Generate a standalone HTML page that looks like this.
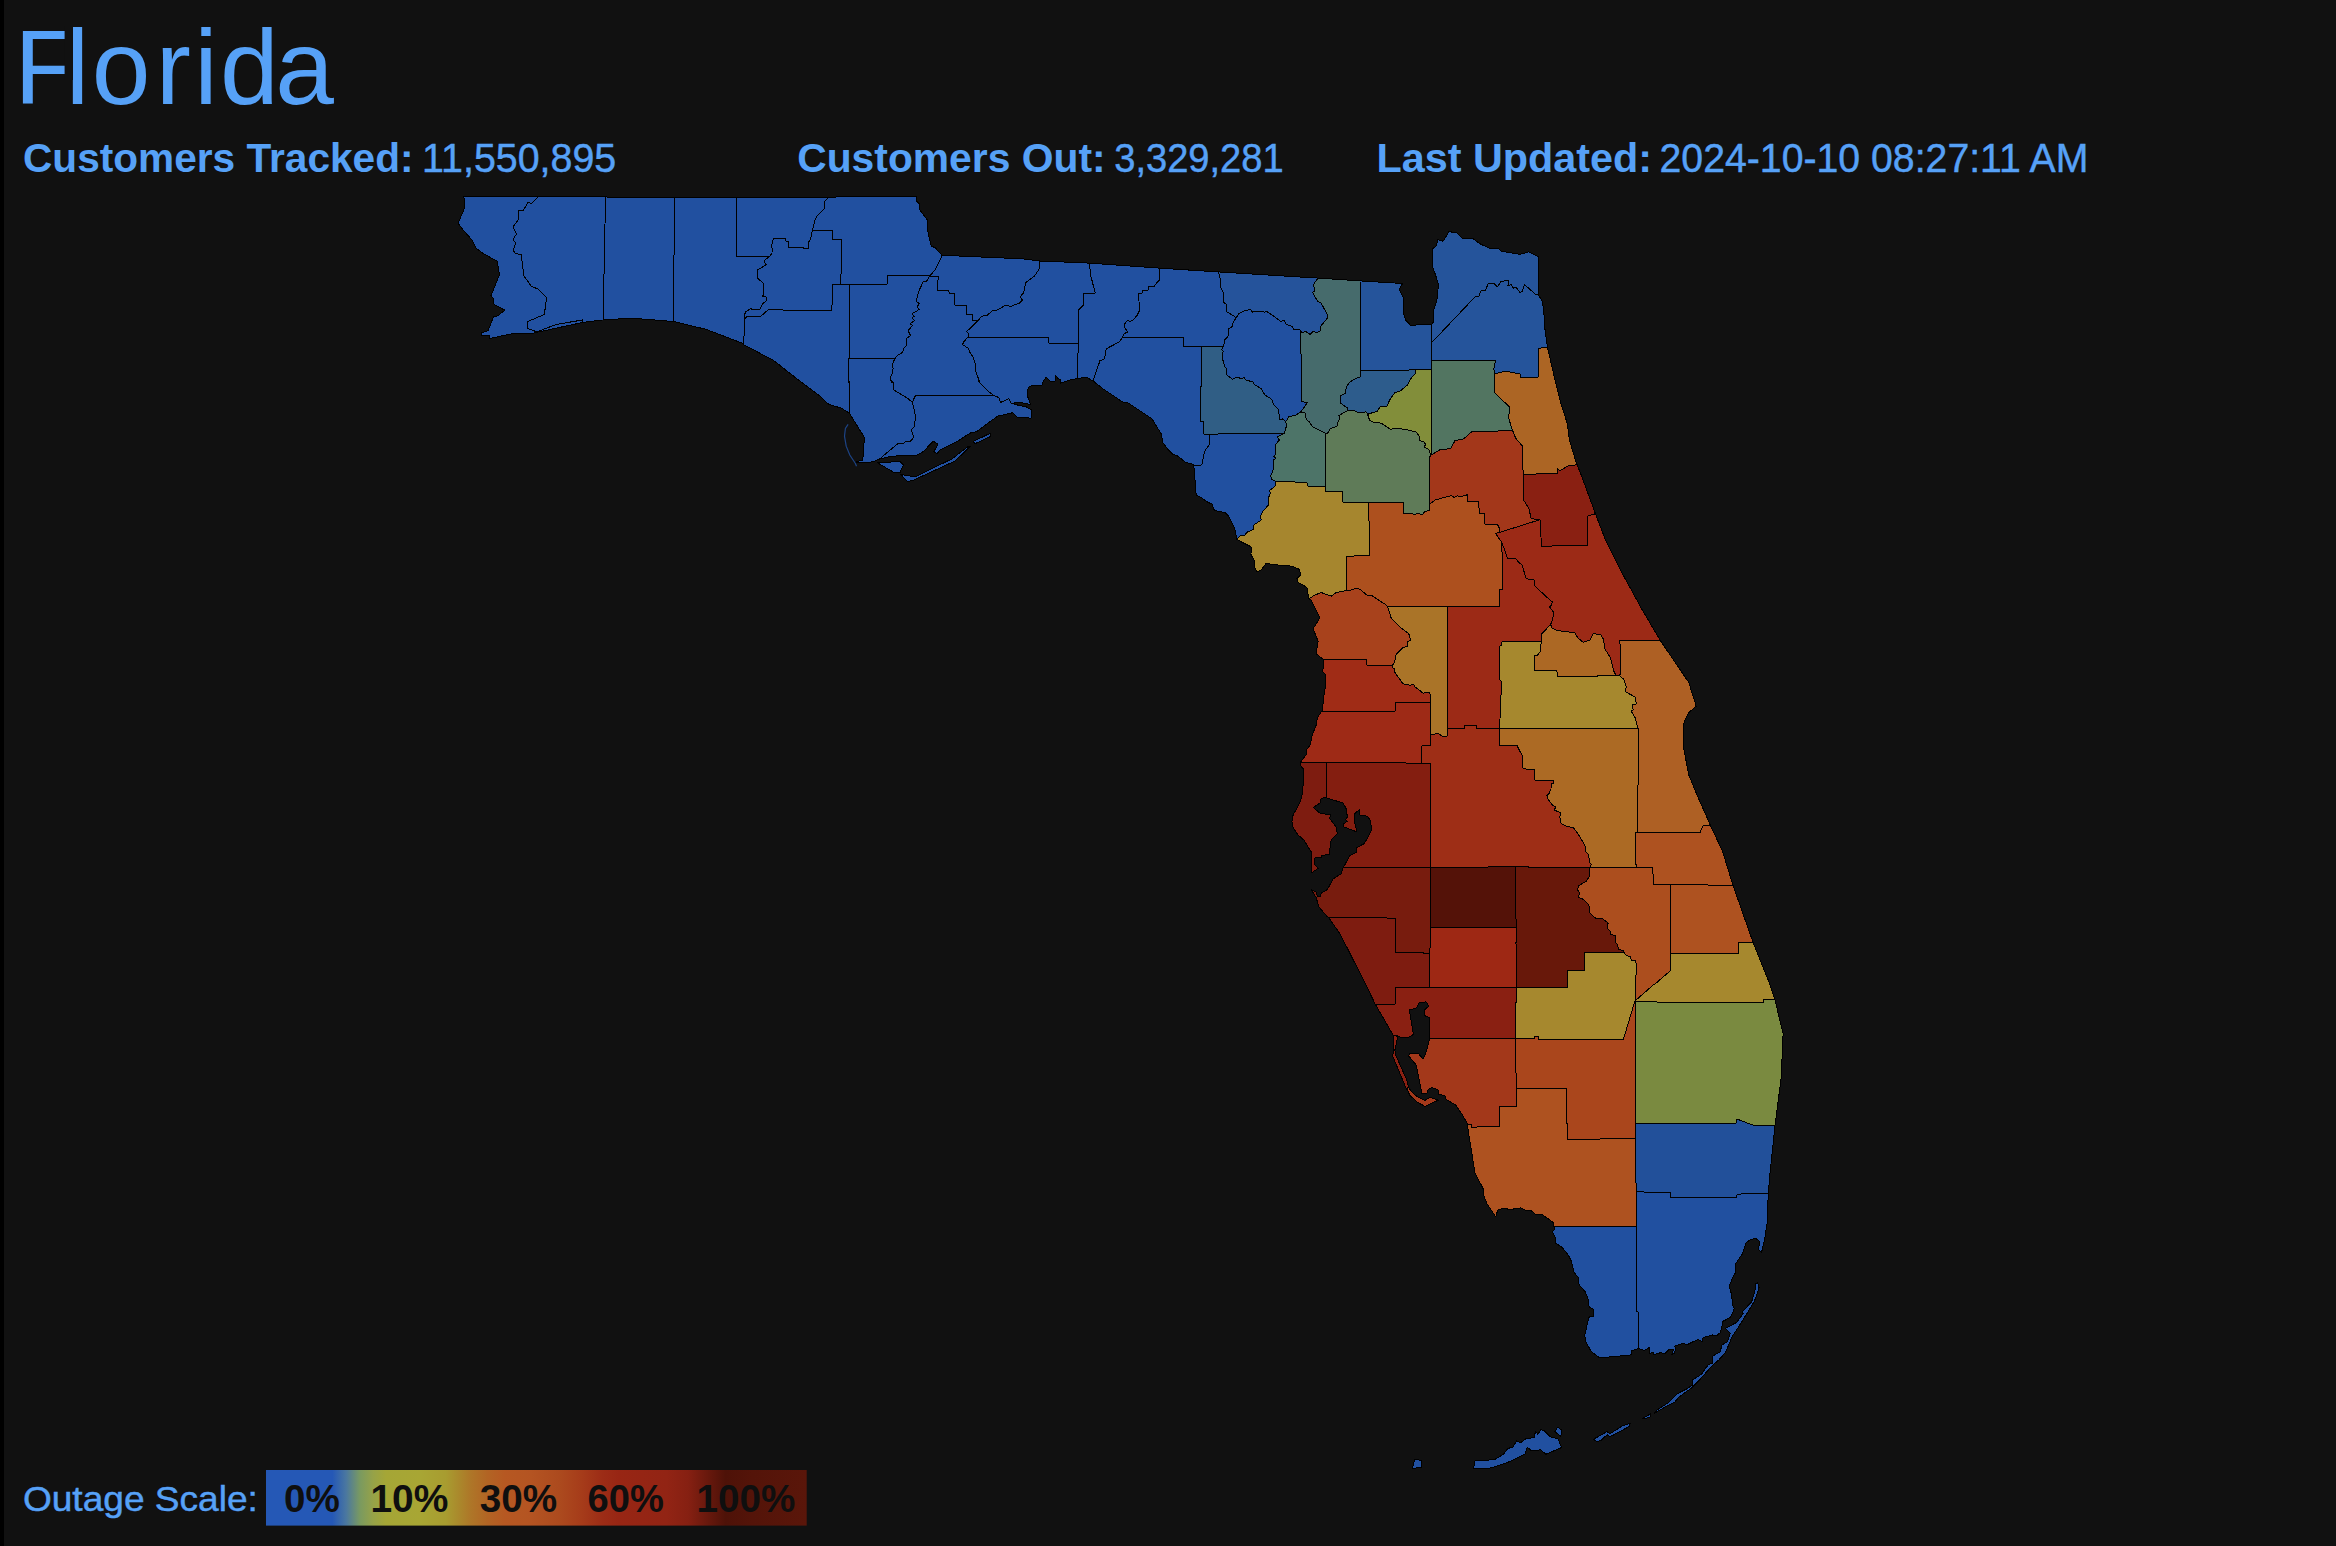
<!DOCTYPE html>
<html lang="en"><head><meta charset="utf-8"><title>Florida Power Outages</title>
<style>
html,body{margin:0;padding:0;background:#111111;}
body{width:2336px;height:1546px;overflow:hidden;position:relative;font-family:"Liberation Sans",sans-serif;}
#edge{position:absolute;left:0;top:0;width:4px;height:1546px;background:#000;}
svg{position:absolute;left:0;top:0;display:block;}
svg text{font-family:"Liberation Sans",sans-serif;white-space:pre;}
#map path{stroke:#000;stroke-width:1;stroke-linejoin:round;shape-rendering:crispEdges;}
</style></head><body>
<div id="edge"></div>
<svg width="2336" height="1546" viewBox="0 0 2336 1546">
<defs><linearGradient id="lg" x1="0" y1="0" x2="1" y2="0">
<stop offset="0%" stop-color="#2558B6"/>
<stop offset="12.3%" stop-color="#2558B6"/>
<stop offset="14.8%" stop-color="#4A77A0"/>
<stop offset="17.4%" stop-color="#7A9A60"/>
<stop offset="19.8%" stop-color="#96A248"/>
<stop offset="22.2%" stop-color="#A5A636"/>
<stop offset="28.5%" stop-color="#A8A634"/>
<stop offset="33.3%" stop-color="#A89C30"/>
<stop offset="35.5%" stop-color="#AA8A2C"/>
<stop offset="37.9%" stop-color="#AE7628"/>
<stop offset="41%" stop-color="#B26424"/>
<stop offset="44.2%" stop-color="#B65822"/>
<stop offset="49%" stop-color="#B45422"/>
<stop offset="54.3%" stop-color="#AC4A1E"/>
<stop offset="58.3%" stop-color="#A63C1A"/>
<stop offset="62.3%" stop-color="#9C2C16"/>
<stop offset="65.2%" stop-color="#982614"/>
<stop offset="74.1%" stop-color="#922414"/>
<stop offset="78.1%" stop-color="#862012"/>
<stop offset="81%" stop-color="#6E1A0E"/>
<stop offset="85%" stop-color="#4E1208"/>
<stop offset="90%" stop-color="#541409"/>
<stop offset="100%" stop-color="#5A160A"/>
</linearGradient></defs>
<g id="map">
<path d="M1775.0,1000.0 1774.9,999.6 1763.5,999.6 1763.1,1002.5 1662.5,1002.2 1635.0,1001.2 1635.0,1001.5 1635.0,1123.1 1736.2,1123.1 1736.9,1119.0 1752.5,1125.0 1775.0,1126.0 1775.0,1125.9 1775.0,1125.6 1781.2,1077.5 1783.1,1033.8 1775.0,1000.0Z" fill="#7A8A40"/>
<path d="M1447.8,728.5 1447.8,736.0 1442.5,736.2 1438.1,733.5 1436.2,733.8 1430.6,735.0 1430.4,745.6 1422.5,745.6 1421.9,746.2 1421.5,763.1 1430.0,763.4 1430.6,769.4 1430.6,793.0 1430.6,867.5 1487.5,867.2 1488.8,866.2 1515.6,866.2 1527.5,866.2 1528.8,867.2 1542.0,867.2 1590.0,867.5 1591.2,864.4 1589.4,862.5 1588.8,855.0 1586.0,851.9 1585.0,846.2 1582.5,841.2 1577.5,833.1 1573.8,828.1 1565.0,825.6 1561.2,823.8 1559.8,816.9 1560.6,812.8 1554.4,810.0 1555.6,806.9 1552.5,805.0 1548.1,799.4 1546.9,795.6 1549.4,793.0 1551.0,788.8 1551.2,783.8 1553.5,783.5 1553.8,780.6 1535.0,780.2 1534.8,769.4 1527.5,769.4 1522.8,768.1 1522.5,756.2 1516.9,745.4 1499.8,745.4 1499.8,728.5 1476.9,728.5 1476.5,725.4 1464.8,725.4 1464.4,728.5Z" fill="#9E2E16"/>
<path d="M1467.6,1124.4 1468.1,1130.0 1475.0,1173.0 1483.3,1189.0 1484.0,1196.3 1486.9,1203.6 1495.7,1216.7 1497.8,1210.1 1502.2,1208.4 1510.9,1209.4 1521.1,1207.9 1526.2,1210.8 1531.3,1210.8 1535.7,1214.5 1542.2,1214.5 1553.2,1222.5 1554.0,1226.4 1554.1,1226.6 1636.4,1226.6 1636.4,1191.9 1635.6,1173.0 1635.2,1138.5 1622.0,1138.5 1600.0,1139.0 1567.2,1139.4 1566.6,1088.5 1516.3,1088.5 1516.9,1106.5 1499.8,1106.9 1499.4,1126.2 1471.9,1127.2 1471.5,1124.4Z" fill="#AE5220"/>
<path d="M1638.7,1348.5 1639.0,1348.4 1644.1,1350.6 1649.2,1347.7 1649.9,1353.5 1652.9,1352.0 1653.6,1354.9 1660.1,1352.8 1665.2,1353.5 1669.6,1349.1 1674.0,1349.1 1671.8,1354.2 1674.7,1353.5 1675.4,1348.4 1674.7,1346.2 1682.7,1343.3 1687.1,1344.8 1692.9,1341.8 1698.0,1339.7 1702.3,1341.8 1703.1,1337.5 1712.5,1335.0 1716.2,1336.0 1720.5,1332.4 1722.0,1326.6 1722.7,1321.5 1730.7,1317.1 1734.4,1308.4 1732.2,1304.7 1731.9,1296.0 1729.3,1285.8 1732.9,1277.1 1735.5,1272.7 1735.5,1264.0 1742.4,1253.8 1746.0,1242.9 1749.6,1240.0 1755.5,1238.2 1759.8,1241.4 1758.4,1249.4 1761.6,1252.3 1764.9,1237.8 1767.1,1223.2 1768.3,1193.4 1737.3,1194.1 1736.5,1197.0 1670.8,1197.3 1670.3,1192.4 1636.4,1191.9 1636.4,1226.6 1636.8,1311.3 1638.3,1312.0Z" fill="#2150A0"/>
<path d="M1417.5,513.1 1414.4,515.0 1412.5,513.5 1403.5,513.1 1403.1,502.5 1368.8,502.1 1369.4,555.6 1346.9,556.2 1346.2,590.6 1351.2,590.0 1356.2,588.1 1360.0,589.4 1367.5,595.6 1371.9,595.6 1386.2,605.0 1387.5,606.2 1420.0,606.2 1447.8,606.2 1499.4,606.2 1499.4,589.8 1502.5,589.4 1501.9,543.1 1501.9,542.5 1495.6,533.5 1499.4,532.5 1499.4,528.1 1497.5,524.6 1485.0,524.4 1484.4,513.1 1479.4,513.1 1478.5,501.5 1467.5,501.2 1467.2,494.8 1459.4,496.9 1457.5,495.6 1454.4,497.5 1451.2,495.6 1435.0,500.0 1429.8,504.0 1429.8,504.0 1429.8,510.6 1425.0,511.2 1422.2,515.0Z" fill="#AD501E"/>
<path d="M1522.0,728.5 1499.8,728.5 1499.8,745.4 1516.9,745.4 1522.5,756.2 1522.8,768.1 1527.5,769.4 1534.8,769.4 1535.0,780.2 1553.8,780.6 1553.5,783.5 1551.2,783.8 1551.0,788.8 1549.4,793.0 1546.9,795.6 1548.1,799.4 1552.5,805.0 1555.6,806.9 1554.4,810.0 1560.6,812.8 1559.8,816.9 1561.2,823.8 1565.0,825.6 1573.8,828.1 1577.5,833.1 1582.5,841.2 1585.0,846.2 1586.0,851.9 1588.8,855.0 1589.4,862.5 1591.2,864.4 1590.0,867.5 1636.2,867.5 1635.6,857.5 1635.0,832.8 1637.5,831.9 1637.8,793.0 1638.8,752.5 1638.1,728.5Z" fill="#AC6A24"/>
<path d="M1660.5,640.8 1660.2,640.3 1619.8,640.6 1620.2,647.5 1620.0,676.0 1623.8,679.4 1626.2,686.2 1625.6,691.9 1635.0,696.9 1636.5,703.8 1632.5,704.8 1633.1,710.0 1631.2,711.2 1635.0,717.5 1638.1,728.5 1638.8,752.5 1637.8,793.0 1637.5,831.9 1635.0,832.8 1700.0,832.5 1703.1,826.0 1710.3,825.1 1710.0,824.4 1696.2,793.0 1688.8,775.0 1683.5,747.5 1683.1,725.0 1685.6,718.8 1688.8,712.5 1696.2,706.2 1688.8,682.5Z" fill="#AE6024"/>
<path d="M1595.5,513.8 1595.5,513.7 1587.5,516.2 1587.5,545.4 1541.5,546.2 1540.0,519.4 1536.9,520.6 1499.4,532.5 1495.6,533.5 1501.9,542.5 1501.9,543.1 1502.1,543.1 1507.5,558.1 1515.6,558.5 1518.8,562.5 1521.9,564.4 1526.2,578.8 1534.0,579.8 1534.4,585.6 1551.2,601.2 1552.5,601.9 1550.1,607.8 1553.8,612.5 1552.5,620.0 1550.6,624.4 1551.9,628.1 1557.5,630.6 1575.0,632.8 1577.5,637.5 1583.1,642.2 1590.0,640.0 1593.1,633.8 1600.6,634.4 1603.8,640.0 1604.4,648.1 1610.6,658.1 1613.8,671.2 1616.2,675.6 1620.0,676.0 1620.2,647.5 1619.8,640.6 1660.2,640.3 1660.0,640.0 1641.2,608.0 1623.8,576.2 1605.0,538.8Z" fill="#9C2A16"/>
<path d="M673.5,321.5 673.6,321.5 673.8,321.5 706.2,329.4 742.0,343.1 743.1,344.4 743.2,344.4 744.8,328.8 744.5,318.8 744.4,315.0 745.6,311.9 751.2,308.1 751.9,309.4 760.0,309.4 762.5,303.8 766.6,300.6 766.6,297.2 762.2,296.0 763.8,295.0 763.1,283.1 757.5,278.1 757.5,270.0 766.2,264.8 764.4,262.5 765.0,260.0 769.8,256.2 736.2,256.2 736.2,198.3 736.2,197.8 674.6,197.8 675.0,254.4 673.8,255.0Z" fill="#2150A0"/>
<path d="M605.6,196.9 539.0,196.7 538.5,196.7 531.2,203.5 528.1,202.2 523.5,210.0 518.5,211.0 518.5,219.4 513.1,226.9 516.5,233.8 513.1,239.6 515.9,243.1 513.1,250.0 515.0,253.1 521.2,254.8 523.8,275.6 531.2,286.2 537.5,288.8 546.5,297.8 544.4,314.4 527.8,321.5 527.5,328.5 536.9,331.9 556.2,324.4 582.5,320.0 582.9,322.4 582.9,322.4 602.5,320.0 603.1,320.0 603.1,320.0 605.0,223.8Z" fill="#2150A0"/>
<path d="M1770.0,1173.0 1775.0,1126.0 1752.5,1125.0 1736.9,1119.0 1736.2,1123.1 1635.0,1123.1 1635.2,1138.5 1635.6,1173.0 1636.4,1191.9 1670.3,1192.4 1670.8,1197.3 1736.5,1197.0 1737.3,1194.1 1768.3,1193.4 1768.3,1193.4 1768.3,1193.3 1770.0,1173.0Z" fill="#22509A"/>
<path d="M1501.9,543.1 1502.5,589.4 1499.4,589.8 1499.4,606.2 1447.8,606.2 1447.8,728.5 1464.4,728.5 1464.8,725.4 1476.5,725.4 1476.9,728.5 1499.8,728.5 1500.0,718.8 1501.2,691.2 1501.5,681.2 1499.8,680.0 1500.0,645.6 1501.5,645.0 1501.9,641.9 1541.2,641.2 1541.9,633.8 1550.6,624.4 1552.5,620.0 1553.8,612.5 1550.1,607.8 1552.5,601.9 1551.2,601.2 1534.4,585.6 1534.0,579.8 1526.2,578.8 1521.9,564.4 1518.8,562.5 1515.6,558.5 1507.5,558.1 1502.1,543.1ZM1550.1,607.8 1550.0,608.0 1549.4,606.9Z" fill="#9C2A16"/>
<path d="M1236.9,539.3 1236.9,539.4 1240.0,541.2 1251.2,546.9 1251.0,554.4 1254.8,561.9 1254.4,566.9 1256.9,571.9 1261.2,570.0 1266.2,563.1 1271.2,564.4 1292.5,566.2 1299.4,569.4 1300.6,575.0 1296.9,578.8 1297.5,581.9 1306.9,587.5 1308.8,598.8 1315.0,595.0 1321.2,592.5 1331.2,596.2 1336.2,592.5 1346.2,590.6 1346.9,556.2 1369.4,555.6 1368.8,502.1 1342.8,502.1 1342.5,491.5 1325.2,491.2 1325.3,486.0 1325.2,486.0 1308.1,486.2 1306.9,482.5 1275.6,481.2 1275.0,486.2 1269.4,490.6 1270.6,493.1 1268.8,496.9 1268.8,504.4 1262.5,511.9 1260.6,515.6 1261.2,520.0 1253.8,525.0 1253.8,529.4 1247.5,531.9 1244.4,535.6 1240.6,535.0Z" fill="#A6862E"/>
<path d="M1622.0,1039.4 1538.5,1039.0 1538.1,1036.2 1534.8,1036.2 1534.4,1038.8 1515.6,1038.8 1516.2,1088.1 1516.3,1088.5 1516.3,1088.5 1566.6,1088.5 1567.2,1139.4 1600.0,1139.0 1622.0,1138.5 1635.2,1138.5 1635.0,1123.1 1635.0,1001.5 1634.8,1001.5 1623.5,1039.0Z" fill="#AA461C"/>
<path d="M1542.0,867.2 1528.8,867.2 1527.5,866.2 1515.6,866.2 1515.6,866.5 1515.6,900.0 1516.2,927.5 1516.2,927.5 1516.0,943.8 1516.9,983.0 1516.2,983.0 1516.2,987.5 1567.5,987.5 1567.5,983.0 1567.5,970.4 1584.8,970.4 1584.8,952.5 1624.0,952.5 1624.1,952.5 1623.8,950.6 1618.8,949.4 1617.5,945.0 1615.0,941.2 1615.6,935.6 1610.6,934.4 1610.0,930.6 1606.9,928.1 1608.1,923.1 1601.9,918.1 1596.2,918.8 1590.0,913.1 1588.8,905.0 1582.5,898.8 1578.5,897.5 1579.4,892.5 1577.5,890.0 1578.8,885.6 1586.2,881.2 1589.4,876.2 1590.0,867.5Z" fill="#68180A"/>
<path d="M1421.5,763.1 1326.2,762.5 1326.5,793.0 1326.3,797.8 1326.5,797.8 1343.1,803.1 1346.2,808.8 1346.9,814.4 1348.1,816.2 1345.6,819.4 1347.5,821.2 1343.8,823.8 1343.8,826.9 1356.9,831.9 1354.4,821.9 1354.4,813.8 1359.8,809.4 1360.0,815.0 1367.5,816.2 1370.0,820.0 1371.9,828.8 1366.9,839.4 1363.8,843.8 1356.9,847.5 1356.9,851.9 1350.0,855.6 1343.8,866.5 1343.4,867.5 1430.6,867.5 1430.6,793.0 1430.6,769.4 1430.0,763.4Z" fill="#841E10"/>
<path d="M1122.3,337.4 1119.4,341.9 1106.2,348.8 1105.6,353.8 1103.8,359.4 1100.0,360.6 1093.0,380.9 1093.0,381.0 1093.1,381.0 1103.8,389.4 1122.5,401.9 1127.5,402.5 1151.9,418.8 1161.2,433.8 1163.1,443.0 1167.5,448.8 1173.1,454.4 1178.1,456.2 1185.6,462.5 1193.8,464.4 1193.8,465.2 1193.8,465.2 1201.9,465.0 1204.4,452.5 1206.2,448.8 1209.6,444.4 1209.4,435.0 1204.0,434.4 1203.8,421.5 1200.6,421.2 1201.5,346.5 1221.9,346.5 1222.5,346.5 1183.8,346.2 1183.4,337.5 1122.5,337.5Z" fill="#2150A0"/>
<path d="M606.2,196.9 605.6,196.9 605.6,196.9 605.0,223.8 603.1,320.0 631.2,318.1 673.5,321.5 673.8,255.0 675.0,254.4 674.6,197.8 674.6,197.8 616.2,197.8Z" fill="#2150A0"/>
<path d="M1501.9,641.9 1501.5,645.0 1500.0,645.6 1499.8,680.0 1501.5,681.2 1501.2,691.2 1500.0,718.8 1499.8,728.5 1522.0,728.5 1638.1,728.5 1635.0,717.5 1631.2,711.2 1633.1,710.0 1632.5,704.8 1636.5,703.8 1635.0,696.9 1625.6,691.9 1626.2,686.2 1623.8,679.4 1620.0,676.0 1616.2,675.6 1597.5,676.0 1557.5,676.2 1556.9,671.0 1534.8,670.6 1534.8,655.6 1537.5,655.0 1540.6,651.2 1541.2,641.2Z" fill="#A6882E"/>
<path d="M1368.8,415.6 1366.2,411.9 1357.5,412.5 1353.8,410.0 1347.5,410.6 1338.8,415.6 1340.0,418.8 1337.5,422.5 1336.9,426.2 1330.0,428.8 1327.5,433.5 1325.6,433.5 1325.3,486.0 1325.2,491.2 1342.5,491.5 1342.8,502.1 1368.8,502.1 1403.1,502.5 1403.5,513.1 1412.5,513.5 1414.4,515.0 1417.5,513.1 1422.2,515.0 1425.0,511.2 1429.8,510.6 1429.8,504.0 1429.8,504.0 1429.8,504.0 1430.0,456.5 1431.0,455.2 1429.8,452.5 1428.8,449.4 1424.4,446.9 1425.6,444.4 1423.8,441.9 1420.0,440.6 1418.8,435.6 1416.2,431.9 1408.1,430.0 1396.2,428.1 1390.6,429.4 1381.2,423.1 1373.8,422.5 1370.0,420.6 1367.5,415.0Z" fill="#5F7B58"/>
<path d="M829.4,197.1 828.6,197.1 824.8,201.2 824.4,208.8 816.9,216.2 815.0,220.0 812.5,230.2 832.5,230.2 832.8,239.4 841.6,239.6 841.2,270.0 840.6,284.0 849.4,284.0 887.2,284.0 887.8,275.6 916.2,275.6 929.8,276.0 930.0,275.6 935.0,270.0 942.4,255.3 941.9,255.2 935.0,247.5 931.2,246.2 927.5,230.0 927.5,220.0 919.4,209.4 920.0,204.4 916.2,200.6 916.0,196.0 911.2,196.0Z" fill="#2150A0"/>
<path d="M1635.6,983.0 1636.5,965.0 1635.6,960.6 1631.2,960.0 1630.6,956.9 1626.9,955.6 1624.4,953.8 1624.1,952.5 1624.0,952.5 1584.8,952.5 1584.8,970.4 1567.5,970.4 1567.5,983.0 1567.5,987.5 1516.2,987.5 1515.6,1038.8 1534.4,1038.8 1534.8,1036.2 1538.1,1036.2 1538.5,1039.0 1622.0,1039.4 1623.5,1039.0 1634.8,1001.5 1635.0,1001.5 1635.0,1001.2 1635.0,1001.0 1635.0,1001.0 1635.0,1001.0Z" fill="#A6882E"/>
<path d="M1554.1,1226.6 1554.6,1229.0 1552.4,1232.2 1555.3,1237.8 1555.3,1242.9 1561.9,1247.2 1568.4,1255.2 1571.3,1261.1 1574.3,1272.7 1578.6,1277.8 1579.1,1285.1 1585.2,1291.6 1588.1,1298.9 1589.2,1306.9 1593.2,1309.1 1593.6,1316.4 1588.8,1317.1 1586.6,1327.3 1584.9,1334.6 1585.2,1340.4 1591.0,1351.3 1599.7,1357.9 1620.1,1356.0 1631.0,1354.9 1631.7,1350.6 1638.4,1348.6 1638.7,1348.5 1638.3,1312.0 1636.8,1311.3 1636.4,1226.6Z" fill="#2150A0"/>
<path d="M743.2,344.4 743.4,344.5 773.8,360.6 788.8,372.5 802.5,383.0 820.0,396.2 828.8,404.4 841.2,408.1 849.4,413.1 849.6,413.5 849.0,380.0 848.1,383.0 848.8,358.8 849.4,358.4 849.4,358.4 849.5,358.4 850.0,358.1 849.4,284.4 849.4,284.0 840.6,284.0 840.6,284.4 832.5,284.6 831.9,310.2 797.5,310.2 768.1,309.8 760.6,316.5 747.5,316.2 744.8,318.8 744.5,318.8 744.8,328.8Z" fill="#2150A0"/>
<path d="M1538.4,294.8 1538.2,294.6 1536.2,295.0 1524.4,284.4 1522.5,291.2 1520.0,292.5 1516.2,287.5 1513.1,288.1 1511.2,284.8 1507.5,285.6 1509.0,283.1 1508.8,280.0 1500.6,281.9 1497.5,286.9 1493.8,283.1 1488.1,283.8 1485.6,290.0 1481.2,290.6 1478.8,296.2 1475.0,296.9 1431.5,342.8 1431.5,360.6 1495.6,360.4 1493.8,368.8 1495.0,373.8 1505.0,371.2 1512.5,372.5 1520.0,374.0 1520.6,377.2 1538.1,377.2 1538.5,348.1 1547.6,347.8 1547.5,347.5 1544.4,325.0 1543.8,310.0 1541.9,300.6Z" fill="#25549B"/>
<path d="M1636.2,867.5 1590.0,867.5 1589.4,876.2 1586.2,881.2 1578.8,885.6 1577.5,890.0 1579.4,892.5 1578.5,897.5 1582.5,898.8 1588.8,905.0 1590.0,913.1 1596.2,918.8 1601.9,918.1 1608.1,923.1 1606.9,928.1 1610.0,930.6 1610.6,934.4 1615.6,935.6 1615.0,941.2 1617.5,945.0 1618.8,949.4 1623.8,950.6 1624.1,952.5 1624.4,953.8 1626.9,955.6 1630.6,956.9 1631.2,960.0 1635.6,960.6 1636.5,965.0 1635.6,983.0 1635.0,1001.0 1652.5,985.6 1656.2,983.0 1670.6,970.6 1670.6,953.5 1670.4,884.8 1670.4,884.5 1653.8,884.4 1652.5,867.5Z" fill="#AC4E1E"/>
<path d="M938.1,276.2 929.8,276.0 926.2,281.9 923.1,281.9 918.8,291.2 916.2,301.2 919.4,303.8 916.9,306.9 919.4,309.4 911.9,313.8 914.4,316.2 911.9,318.1 914.4,320.6 910.0,323.8 912.5,325.6 908.1,330.6 910.6,335.6 906.9,338.1 906.6,345.6 903.8,348.1 902.5,352.5 898.1,355.0 895.0,358.4 892.2,364.4 893.1,368.8 891.9,375.0 890.2,376.9 890.6,380.6 892.5,383.0 891.2,380.0 893.8,382.5 893.8,390.0 898.8,393.1 907.5,398.1 911.9,402.0 913.1,400.6 915.6,395.2 993.8,395.6 988.1,391.2 980.6,383.8 979.9,382.6 976.9,374.4 975.0,370.0 975.6,365.0 973.1,356.9 970.6,353.8 968.1,348.1 962.5,344.6 963.8,341.9 967.5,337.5 967.5,337.5 967.6,337.5 968.1,336.9 968.8,333.8 966.2,331.6 971.2,327.5 978.1,320.4 972.9,320.4 972.5,314.6 966.6,314.4 966.2,305.2 955.0,305.2 954.6,293.5 949.4,293.5 948.5,290.4 937.8,290.4ZM979.9,382.6 980.0,383.0 978.1,380.0Z" fill="#2150A0"/>
<path d="M1431.0,455.2 1430.0,456.5 1429.8,504.0 1435.0,500.0 1451.2,495.6 1454.4,497.5 1457.5,495.6 1459.4,496.9 1467.2,494.8 1467.5,501.2 1478.5,501.5 1479.4,513.1 1484.4,513.1 1485.0,524.4 1497.5,524.6 1499.4,528.1 1499.4,532.5 1536.9,520.6 1540.0,519.4 1531.2,518.8 1528.8,508.1 1523.5,500.0 1523.1,474.4 1522.5,446.2 1515.6,438.1 1512.5,430.2 1495.0,431.2 1471.9,431.5 1463.8,438.8 1455.0,440.6 1450.6,448.8 1440.6,449.4Z" fill="#A3371A"/>
<path d="M1318.7,278.1 1318.1,278.1 1313.5,284.4 1314.8,291.2 1312.5,292.5 1317.5,301.2 1321.2,303.1 1327.2,314.4 1327.5,318.1 1320.6,326.2 1320.0,331.2 1316.2,332.5 1313.5,331.2 1310.0,334.4 1306.2,331.9 1301.5,332.2 1300.6,330.8 1301.9,401.9 1307.5,402.2 1305.0,406.2 1300.6,411.9 1305.0,413.1 1306.2,419.4 1309.4,421.9 1312.5,426.9 1320.0,430.6 1325.6,433.5 1327.5,433.5 1330.0,428.8 1336.9,426.2 1337.5,422.5 1340.0,418.8 1338.8,415.6 1347.5,410.6 1347.5,408.1 1340.6,403.1 1340.0,396.2 1345.6,393.1 1346.2,387.5 1348.8,383.1 1353.8,379.4 1360.0,376.9 1361.0,370.6 1360.6,318.8 1360.0,280.9 1360.0,280.9 1359.9,280.9 1318.8,278.1Z" fill="#466B6C"/>
<path d="M1429.4,1038.5 1429.4,1040.0 1425.6,1053.8 1423.1,1059.0 1418.1,1053.1 1409.4,1053.8 1408.8,1056.2 1416.2,1065.0 1421.9,1093.8 1426.9,1093.1 1428.1,1089.4 1431.9,1087.5 1438.1,1090.0 1438.8,1094.4 1445.0,1095.6 1446.2,1099.4 1455.6,1105.0 1462.5,1115.0 1467.5,1123.8 1467.6,1124.3 1467.6,1124.4 1471.5,1124.4 1471.9,1127.2 1499.4,1126.2 1499.8,1106.9 1516.9,1106.5 1516.3,1088.5 1516.2,1088.5 1516.3,1088.5 1516.2,1088.1 1515.6,1038.8Z" fill="#A3381A"/>
<path d="M1343.4,867.5 1343.3,867.6 1341.0,873.8 1333.1,879.0 1328.1,888.1 1326.2,890.6 1321.2,892.8 1320.6,896.2 1317.5,896.2 1316.2,891.9 1311.0,889.4 1316.2,897.5 1318.8,906.9 1326.9,916.2 1328.2,917.3 1328.4,917.5 1386.9,917.5 1387.5,918.5 1395.6,918.5 1395.6,952.5 1423.1,952.5 1423.8,953.4 1429.9,953.4 1429.9,953.4 1430.0,948.1 1430.6,927.5 1430.6,867.5Z" fill="#781C0E"/>
<path d="M1322.0,711.0 1321.8,711.2 1317.5,717.5 1316.2,725.0 1312.5,734.4 1310.0,745.0 1306.9,749.4 1306.5,754.4 1300.6,761.9 1300.5,762.5 1317.5,762.9 1326.2,762.5 1421.5,763.1 1421.9,746.2 1422.5,745.6 1430.4,745.6 1430.6,735.0 1430.6,702.2 1430.4,702.2 1395.6,702.5 1395.4,711.0Z" fill="#9E2A16"/>
<path d="M538.5,196.7 463.8,196.5 465.0,202.5 464.8,207.5 458.1,223.1 463.1,230.0 472.5,240.6 476.2,248.1 481.2,252.2 497.5,261.5 498.5,270.0 499.8,274.0 491.0,295.6 493.8,299.4 494.0,304.4 504.8,310.2 498.1,315.6 493.4,316.9 488.1,330.6 481.0,333.1 481.0,335.6 489.8,335.2 489.8,338.5 515.0,333.1 530.0,333.8 582.5,322.5 582.9,322.4 582.5,320.0 556.2,324.4 536.9,331.9 527.5,328.5 527.8,321.5 544.4,314.4 546.5,297.8 537.5,288.8 531.2,286.2 523.8,275.6 521.2,254.8 515.0,253.1 513.1,250.0 515.9,243.1 513.1,239.6 516.5,233.8 513.1,226.9 518.5,219.4 518.5,211.0 523.5,210.0 528.1,202.2 531.2,203.5Z" fill="#2150A0"/>
<path d="M1159.4,268.1 1160.0,279.4 1156.2,283.5 1154.4,286.2 1148.8,286.9 1148.1,290.0 1142.5,290.6 1142.2,293.1 1138.5,293.8 1139.0,301.2 1139.4,310.6 1136.9,315.6 1132.8,320.6 1129.4,321.5 1127.5,320.2 1124.4,324.4 1125.0,328.1 1127.8,331.9 1124.4,333.5 1122.5,337.1 1122.3,337.4 1122.5,337.5 1183.4,337.5 1183.8,346.2 1222.5,346.5 1223.8,346.5 1224.4,340.0 1228.1,336.2 1228.8,328.8 1231.9,326.9 1233.1,322.5 1235.6,318.5 1234.4,316.2 1226.9,311.9 1226.9,304.4 1223.8,302.5 1223.1,291.9 1220.6,287.5 1219.8,275.0 1218.0,271.9 1217.5,271.9 1217.4,271.9Z" fill="#2150A0"/>
<path d="M1193.8,465.2 1195.6,487.5 1196.2,495.0 1201.2,497.5 1208.1,502.5 1211.9,503.8 1214.4,510.6 1225.0,512.5 1228.8,516.2 1234.4,527.5 1236.9,539.3 1240.6,535.0 1244.4,535.6 1247.5,531.9 1253.8,529.4 1253.8,525.0 1261.2,520.0 1260.6,515.6 1262.5,511.9 1268.8,504.4 1268.8,496.9 1270.6,493.1 1269.4,490.6 1275.0,486.2 1275.6,481.2 1271.9,479.4 1270.6,476.2 1273.1,470.0 1273.1,460.0 1276.2,458.1 1273.8,456.9 1275.6,453.8 1275.0,445.0 1279.4,440.0 1277.5,436.9 1284.4,433.1 1225.0,433.8 1204.0,434.4 1209.4,435.0 1209.6,444.4 1206.2,448.8 1204.4,452.5 1201.9,465.0Z" fill="#2150A0"/>
<path d="M1039.7,261.0 1039.0,269.4 1034.4,276.2 1025.6,282.8 1023.8,292.5 1020.0,296.9 1022.5,300.0 1019.4,303.1 1011.2,306.2 1005.0,305.6 1000.0,308.5 997.5,310.0 992.5,310.6 987.5,315.0 981.9,316.2 978.1,320.4 971.2,327.5 966.2,331.6 968.8,333.8 968.1,336.9 967.6,337.5 1022.0,337.5 1048.5,337.1 1048.8,343.1 1078.1,343.4 1078.1,343.4 1078.5,310.2 1083.5,305.0 1083.5,293.5 1095.2,293.1 1090.6,275.0 1089.5,263.1 1089.4,263.1 1089.3,263.1 1040.0,261.0Z" fill="#2150A0"/>
<path d="M1375.1,1004.0 1393.1,1035.0 1397.5,1035.6 1399.4,1036.9 1408.1,1037.8 1413.5,1034.4 1411.2,1021.2 1409.4,1010.0 1416.2,1008.1 1419.4,1002.5 1426.2,1001.9 1428.8,1006.2 1424.4,1010.0 1424.4,1015.6 1429.4,1017.5 1429.4,1038.5 1515.6,1038.8 1516.2,987.5 1429.4,987.5 1395.6,987.8 1395.2,1004.0Z" fill="#8A2012"/>
<path d="M1235.6,318.5 1233.1,322.5 1231.9,326.9 1228.8,328.8 1228.1,336.2 1224.4,340.0 1223.8,346.5 1222.5,346.5 1221.9,350.0 1223.1,351.2 1222.5,358.8 1225.0,366.9 1226.9,369.4 1226.9,375.0 1232.5,379.4 1236.9,376.9 1241.2,378.8 1244.4,377.5 1245.6,380.0 1253.1,381.9 1254.4,384.4 1261.2,388.8 1265.0,395.0 1271.9,399.4 1273.8,405.0 1278.1,408.8 1280.0,420.0 1283.1,418.8 1285.6,421.9 1288.8,416.9 1296.2,415.0 1300.6,411.9 1305.0,406.2 1307.5,402.2 1301.9,401.9 1300.6,330.8 1300.0,329.8 1293.8,329.4 1291.9,326.2 1286.2,324.4 1284.4,320.6 1280.6,321.2 1273.1,315.6 1266.2,311.2 1265.0,312.1 1259.4,311.2 1252.5,312.1 1250.6,309.4 1245.0,310.6 1238.8,313.8Z" fill="#2150A0"/>
<path d="M1547.6,347.9 1547.6,347.8 1538.5,348.1 1538.1,377.2 1520.6,377.2 1520.0,374.0 1512.5,372.5 1505.0,371.2 1495.0,373.8 1494.4,392.5 1509.4,406.9 1508.8,418.0 1510.0,422.5 1512.5,430.2 1515.6,438.1 1522.5,446.2 1523.1,474.4 1543.1,473.8 1557.5,473.1 1557.5,468.8 1560.0,470.6 1567.5,466.2 1569.4,465.6 1577.2,464.8 1576.2,462.5 1569.4,440.0 1567.5,425.0 1565.6,418.0 1561.2,405.0 1555.0,380.0Z" fill="#AC6524"/>
<path d="M1431.6,324.5 1431.5,324.6 1431.5,342.8 1475.0,296.9 1478.8,296.2 1481.2,290.6 1485.6,290.0 1488.1,283.8 1493.8,283.1 1497.5,286.9 1500.6,281.9 1508.8,280.0 1509.0,283.1 1507.5,285.6 1511.2,284.8 1513.1,288.1 1516.2,287.5 1520.0,292.5 1522.5,291.2 1524.4,284.4 1536.2,295.0 1538.2,294.6 1538.1,294.4 1538.8,256.9 1528.8,251.9 1520.0,254.4 1512.5,253.1 1501.2,251.2 1498.1,248.1 1490.0,248.5 1480.0,243.8 1473.1,238.8 1461.9,238.1 1456.2,232.2 1448.8,231.9 1443.1,241.2 1437.2,239.4 1436.9,245.0 1432.8,248.8 1432.2,266.2 1435.6,275.0 1438.5,285.0 1436.9,300.0 1434.0,308.8 1433.8,321.2Z" fill="#25549B"/>
<path d="M1495.0,373.8 1493.8,368.8 1495.6,360.4 1431.5,360.6 1431.5,369.4 1431.5,418.0 1431.2,440.0 1431.0,455.2 1440.6,449.4 1450.6,448.8 1455.0,440.6 1463.8,438.8 1471.9,431.5 1495.0,431.2 1512.5,430.2 1510.0,422.5 1508.8,418.0 1509.4,406.9 1494.4,392.5Z" fill="#527561"/>
<path d="M1308.8,598.8 1311.2,600.0 1315.0,608.0 1320.0,617.5 1313.1,628.8 1318.1,641.2 1316.2,653.8 1323.4,659.4 1323.8,659.8 1366.5,659.8 1366.9,665.2 1392.5,665.2 1394.4,662.5 1396.2,654.4 1403.1,647.5 1407.5,646.2 1407.5,641.9 1410.6,640.0 1408.8,633.8 1401.2,628.1 1391.2,618.1 1387.5,606.2 1386.2,605.0 1371.9,595.6 1367.5,595.6 1360.0,589.4 1356.2,588.1 1351.2,590.0 1346.2,590.6 1336.2,592.5 1331.2,596.2 1321.2,592.5 1315.0,595.0Z" fill="#A8421C"/>
<path d="M1753.2,942.8 1753.1,942.5 1738.8,942.5 1738.8,953.5 1670.6,953.5 1670.6,953.5 1670.6,970.6 1656.2,983.0 1652.5,985.6 1635.0,1001.0 1635.0,1001.0 1635.0,1001.2 1662.5,1002.2 1763.1,1002.5 1763.5,999.6 1774.9,999.6 1769.4,983.0Z" fill="#A6882E"/>
<path d="M812.5,230.2 810.6,238.8 808.5,242.5 808.8,248.1 803.8,248.5 803.1,247.8 788.8,247.5 788.5,241.2 785.9,241.0 785.6,238.5 773.5,238.5 771.2,246.9 773.1,250.0 772.5,252.5 769.8,256.2 765.0,260.0 764.4,262.5 766.2,264.8 757.5,270.0 757.5,278.1 763.1,283.1 763.8,295.0 762.2,296.0 766.6,297.2 766.6,300.6 762.5,303.8 760.0,309.4 751.9,309.4 751.2,308.1 745.6,311.9 744.4,315.0 744.5,318.8 744.8,318.8 747.5,316.2 760.6,316.5 768.1,309.8 797.5,310.2 831.9,310.2 832.5,284.6 840.6,284.4 840.6,284.0 841.2,270.0 841.6,239.6 832.8,239.4 832.5,230.2Z" fill="#2150A0"/>
<path d="M1014.0,403.7 1013.1,403.1 1020.0,402.5 1030.6,404.4 1027.5,396.2 1028.1,387.5 1032.5,385.2 1041.9,385.2 1043.8,380.0 1046.2,377.5 1050.0,381.2 1055.0,381.0 1055.6,375.4 1058.1,378.8 1061.0,379.4 1060.6,383.1 1070.0,380.0 1077.6,378.6 1077.8,378.5 1078.1,343.4 1078.1,343.4 1048.8,343.1 1048.5,337.1 1022.0,337.5 967.6,337.5 967.5,337.5 963.8,341.9 962.5,344.6 968.1,348.1 970.6,353.8 973.1,356.9 975.6,365.0 975.0,370.0 976.9,374.4 979.9,382.6 980.6,383.8 988.1,391.2 993.8,395.6 998.8,397.5 1000.6,402.5 1008.8,398.5 1011.2,403.1 1014.0,403.8Z" fill="#2150A0"/>
<path d="M1089.5,263.1 1090.6,275.0 1095.2,293.1 1083.5,293.5 1083.5,305.0 1078.5,310.2 1078.1,343.4 1077.8,378.5 1080.0,378.1 1086.2,377.2 1093.0,380.9 1100.0,360.6 1103.8,359.4 1105.6,353.8 1106.2,348.8 1119.4,341.9 1122.3,337.4 1122.5,337.1 1124.4,333.5 1127.8,331.9 1125.0,328.1 1124.4,324.4 1127.5,320.2 1129.4,321.5 1132.8,320.6 1136.9,315.6 1139.4,310.6 1139.0,301.2 1138.5,293.8 1142.2,293.1 1142.5,290.6 1148.1,290.0 1148.8,286.9 1154.4,286.2 1156.2,283.5 1160.0,279.4 1159.4,268.1 1159.4,268.1 1159.3,268.1Z" fill="#2150A0"/>
<path d="M1430.6,927.5 1430.0,948.1 1429.9,953.4 1430.0,953.4 1429.9,953.4 1429.4,983.0 1429.4,987.5 1516.2,987.5 1516.2,983.0 1516.9,983.0 1516.0,943.8 1516.2,927.5 1516.2,927.5 1516.0,927.5Z" fill="#9E2814"/>
<path d="M1515.6,866.2 1488.8,866.2 1487.5,867.2 1430.6,867.5 1430.6,927.5 1516.0,927.5 1516.2,927.5 1515.6,900.0 1515.6,866.5Z" fill="#541208"/>
<path d="M1402.5,283.5 1360.0,280.9 1360.6,318.8 1361.0,370.6 1405.0,370.4 1415.6,369.4 1431.5,369.4 1431.5,360.6 1431.5,342.8 1431.5,324.6 1431.2,325.0 1417.5,324.8 1411.2,326.0 1405.6,320.0 1403.1,312.5 1403.8,298.8 1399.4,289.4Z" fill="#25549B"/>
<path d="M929.8,276.0 916.2,275.6 887.8,275.6 887.2,284.0 849.4,284.0 849.4,284.4 850.0,358.1 849.5,358.4 895.0,358.4 898.1,355.0 902.5,352.5 903.8,348.1 906.6,345.6 906.9,338.1 910.6,335.6 908.1,330.6 912.5,325.6 910.0,323.8 914.4,320.6 911.9,318.1 914.4,316.2 911.9,313.8 919.4,309.4 916.9,306.9 919.4,303.8 916.2,301.2 918.8,291.2 923.1,281.9 926.2,281.9Z" fill="#2150A0"/>
<path d="M1733.2,885.8 1733.2,885.6 1698.8,884.8 1670.4,884.5 1670.4,884.8 1670.6,953.5 1670.6,953.5 1738.8,953.5 1738.8,942.5 1753.1,942.5Z" fill="#AE5220"/>
<path d="M849.6,413.5 849.7,413.7 864.4,437.5 862.8,460.0 855.0,462.2 857.5,462.8 872.5,461.9 877.9,459.7 878.8,459.4 879.3,459.2 898.1,443.4 903.1,443.8 905.6,441.2 910.0,441.9 913.5,437.5 912.8,433.8 911.2,430.0 914.0,426.9 915.6,417.5 914.0,408.8 912.5,402.5 911.9,402.0 907.5,398.1 898.8,393.1 893.8,390.0 893.8,382.5 891.2,380.0 892.5,383.0 890.6,380.6 890.2,376.9 891.9,375.0 893.1,368.8 892.2,364.4 895.0,358.4 849.5,358.4 849.4,358.4 848.8,358.8 848.1,383.0 849.0,380.0Z" fill="#2150A0"/>
<path d="M1447.8,606.2 1420.0,606.2 1387.5,606.2 1391.2,618.1 1401.2,628.1 1408.8,633.8 1410.6,640.0 1407.5,641.9 1407.5,646.2 1403.1,647.5 1396.2,654.4 1394.4,662.5 1392.5,665.2 1392.2,667.5 1394.4,668.8 1395.0,672.5 1402.5,683.1 1405.0,684.4 1410.0,685.2 1413.8,684.4 1415.0,686.9 1423.1,693.1 1428.8,692.2 1430.6,694.4 1430.6,702.2 1430.6,735.0 1436.2,733.8 1438.1,733.5 1442.5,736.2 1447.8,736.0 1447.8,728.5Z" fill="#AA7428"/>
<path d="M1328.4,917.5 1328.8,917.8 1340.0,933.8 1365.0,983.0 1375.0,1003.7 1375.0,1003.8 1375.1,1004.0 1395.2,1004.0 1395.6,987.8 1429.4,987.5 1429.4,983.0 1429.9,953.4 1423.8,953.4 1423.1,952.5 1395.6,952.5 1395.6,918.5 1387.5,918.5 1386.9,917.5Z" fill="#7E1C10"/>
<path d="M1222.5,346.5 1221.9,346.5 1201.5,346.5 1200.6,421.2 1203.8,421.5 1204.0,434.4 1225.0,433.8 1284.4,433.1 1286.9,424.4 1285.6,421.9 1283.1,418.8 1280.0,420.0 1278.1,408.8 1273.8,405.0 1271.9,399.4 1265.0,395.0 1261.2,388.8 1254.4,384.4 1253.1,381.9 1245.6,380.0 1244.4,377.5 1241.2,378.8 1236.9,376.9 1232.5,379.4 1226.9,375.0 1226.9,369.4 1225.0,366.9 1222.5,358.8 1223.1,351.2 1221.9,350.0Z" fill="#305E85"/>
<path d="M942.5,255.3 942.4,255.3 935.0,270.0 930.0,275.6 929.8,276.0 938.1,276.2 937.8,290.4 948.5,290.4 949.4,293.5 954.6,293.5 955.0,305.2 966.2,305.2 966.6,314.4 972.5,314.6 972.9,320.4 978.1,320.4 981.9,316.2 987.5,315.0 992.5,310.6 997.5,310.0 1000.0,308.5 1005.0,305.6 1011.2,306.2 1019.4,303.1 1022.5,300.0 1020.0,296.9 1023.8,292.5 1025.6,282.8 1034.4,276.2 1039.0,269.4 1039.7,261.0 1039.6,261.0 1022.0,258.8Z" fill="#2150A0"/>
<path d="M1710.4,825.3 1710.3,825.1 1703.1,826.0 1700.0,832.5 1635.0,832.8 1635.6,857.5 1636.2,867.5 1652.5,867.5 1653.8,884.4 1670.4,884.5 1698.8,884.8 1733.2,885.6 1732.5,883.8 1722.5,851.2Z" fill="#AE5220"/>
<path d="M879.3,459.2 890.0,456.5 902.5,455.4 917.5,455.0 923.8,451.2 933.1,441.2 938.1,444.0 934.0,451.5 936.9,453.8 940.0,450.0 957.5,441.2 971.2,432.5 976.2,431.9 997.5,416.2 1012.5,412.8 1017.5,417.5 1031.2,418.1 1031.9,410.0 1026.2,406.9 1015.6,404.6 1014.0,403.7 1014.0,403.8 1011.2,403.1 1008.8,398.5 1000.6,402.5 998.8,397.5 993.8,395.6 915.6,395.2 913.1,400.6 911.9,402.0 912.5,402.5 914.0,408.8 915.6,417.5 914.0,426.9 911.2,430.0 912.8,433.8 913.5,437.5 910.0,441.9 905.6,441.2 903.1,443.8 898.1,443.4Z" fill="#2150A0"/>
<path d="M1218.0,271.9 1219.8,275.0 1220.6,287.5 1223.1,291.9 1223.8,302.5 1226.9,304.4 1226.9,311.9 1234.4,316.2 1235.6,318.5 1238.8,313.8 1245.0,310.6 1250.6,309.4 1252.5,312.1 1259.4,311.2 1265.0,312.1 1266.2,311.2 1273.1,315.6 1280.6,321.2 1284.4,320.6 1286.2,324.4 1291.9,326.2 1293.8,329.4 1300.0,329.8 1300.6,330.8 1300.6,330.6 1301.5,332.2 1306.2,331.9 1310.0,334.4 1313.5,331.2 1316.2,332.5 1320.0,331.2 1320.6,326.2 1327.5,318.1 1327.2,314.4 1321.2,303.1 1317.5,301.2 1312.5,292.5 1314.8,291.2 1313.5,284.4 1318.1,278.1Z" fill="#25539B"/>
<path d="M1577.2,465.0 1577.2,464.8 1569.4,465.6 1567.5,466.2 1560.0,470.6 1557.5,468.8 1557.5,473.1 1543.1,473.8 1523.1,474.4 1523.5,500.0 1528.8,508.1 1531.2,518.8 1540.0,519.4 1541.5,546.2 1587.5,545.4 1587.5,516.2 1595.5,513.7 1595.0,512.5 1581.2,475.0Z" fill="#8A2012"/>
<path d="M828.6,197.1 817.5,197.2 742.0,197.8 736.2,197.8 736.2,198.3 736.2,256.2 769.8,256.2 772.5,252.5 773.1,250.0 771.2,246.9 773.5,238.5 785.6,238.5 785.9,241.0 788.5,241.2 788.8,247.5 803.1,247.8 803.8,248.5 808.8,248.1 808.5,242.5 810.6,238.8 812.5,230.2 815.0,220.0 816.9,216.2 824.4,208.8 824.8,201.2Z" fill="#2150A0"/>
<path d="M1323.8,659.8 1322.8,671.9 1325.6,674.8 1326.0,682.5 1324.0,695.0 1322.2,710.6 1322.0,711.0 1395.4,711.0 1395.6,702.5 1430.4,702.2 1430.6,702.2 1430.6,694.4 1428.8,692.2 1423.1,693.1 1415.0,686.9 1413.8,684.4 1410.0,685.2 1405.0,684.4 1402.5,683.1 1395.0,672.5 1394.4,668.8 1392.2,667.5 1392.5,665.2 1366.9,665.2 1366.5,659.8Z" fill="#A02C16"/>
<path d="M1300.6,411.9 1296.2,415.0 1288.8,416.9 1285.6,421.9 1286.9,424.4 1284.4,433.1 1277.5,436.9 1279.4,440.0 1275.0,445.0 1275.6,453.8 1273.8,456.9 1276.2,458.1 1273.1,460.0 1273.1,470.0 1270.6,476.2 1271.9,479.4 1275.6,481.2 1306.9,482.5 1308.1,486.2 1325.2,486.0 1325.3,486.0 1325.6,433.5 1320.0,430.6 1312.5,426.9 1309.4,421.9 1306.2,419.4 1305.0,413.1Z" fill="#4D7468"/>
<path d="M1550.6,624.4 1541.9,633.8 1541.2,641.2 1540.6,651.2 1537.5,655.0 1534.8,655.6 1534.8,670.6 1556.9,671.0 1557.5,676.2 1597.5,676.0 1616.2,675.6 1613.8,671.2 1610.6,658.1 1604.4,648.1 1603.8,640.0 1600.6,634.4 1593.1,633.8 1590.0,640.0 1583.1,642.2 1577.5,637.5 1575.0,632.8 1557.5,630.6 1551.9,628.1Z" fill="#AC6824"/>
<path d="M1300.5,762.5 1300.5,762.6 1300.0,765.0 1303.1,768.8 1303.8,775.0 1302.5,793.0 1300.0,802.5 1293.1,815.0 1291.9,821.2 1293.1,827.5 1297.5,834.4 1303.8,840.0 1311.2,851.9 1311.9,872.5 1318.1,868.5 1314.4,864.4 1314.4,858.1 1321.2,857.5 1321.5,855.2 1329.0,854.8 1331.2,840.0 1337.2,833.5 1336.0,826.9 1329.4,818.1 1331.0,815.0 1322.5,813.5 1320.0,813.1 1313.1,807.5 1320.0,803.1 1321.2,798.1 1326.2,797.8 1326.3,797.8 1326.5,793.0 1326.2,762.5 1317.5,762.9Z" fill="#7E1C10"/>
<path d="M1431.5,369.4 1415.6,369.4 1415.0,373.8 1410.6,378.8 1407.5,385.0 1400.0,391.2 1395.0,392.5 1390.0,399.4 1386.9,406.2 1380.0,406.9 1377.5,411.2 1368.8,413.8 1368.8,415.6 1367.5,415.0 1370.0,420.6 1373.8,422.5 1381.2,423.1 1390.6,429.4 1396.2,428.1 1408.1,430.0 1416.2,431.9 1418.8,435.6 1420.0,440.6 1423.8,441.9 1425.6,444.4 1424.4,446.9 1428.8,449.4 1429.8,452.5 1431.0,455.2 1431.2,440.0 1431.5,418.0Z" fill="#828E3A"/>
<path d="M1361.0,370.6 1360.0,376.9 1353.8,379.4 1348.8,383.1 1346.2,387.5 1345.6,393.1 1340.0,396.2 1340.6,403.1 1347.5,408.1 1347.5,410.6 1353.8,410.0 1357.5,412.5 1366.2,411.9 1368.8,415.6 1368.8,413.8 1377.5,411.2 1380.0,406.9 1386.9,406.2 1390.0,399.4 1395.0,392.5 1400.0,391.2 1407.5,385.0 1410.6,378.8 1415.0,373.8 1415.6,369.4 1405.0,370.4Z" fill="#2D5C8C"/>
<path d="M1473.5,1468.8 1481.9,1468.8 1492.1,1467.8 1508.2,1462.2 1525.1,1454.1 1527.2,1447.2 1531.3,1450.6 1540.7,1449.9 1545.9,1454.3 1561.7,1447.5 1557.8,1438.6 1550.5,1436.8 1543.9,1430.3 1540.7,1429.8 1537.9,1434.3 1535.6,1431.2 1534.0,1437.6 1525.4,1439.0 1520.4,1442.8 1516.7,1440.7 1512.9,1447.0 1507.9,1448.5 1503.5,1454.3 1494.9,1459.4 1490.6,1459.4 1486.2,1460.8 1475.0,1460.8Z" fill="#2150A0"/>
<path d="M1757.6,1282.6 1755.8,1283.9 1755.2,1289.5 1751.6,1302.0 1742.2,1311.7 1743.1,1313.6 1736.8,1322.3 1725.4,1328.4 1730.2,1333.2 1727.5,1341.7 1722.0,1344.9 1720.1,1351.9 1712.7,1356.0 1712.7,1363.0 1708.2,1364.8 1705.3,1368.6 1701.7,1374.1 1692.3,1380.1 1692.3,1385.2 1686.9,1388.8 1677.7,1393.5 1668.4,1402.7 1656.9,1410.0 1654.3,1413.2 1654.4,1413.2 1665.5,1406.8 1674.8,1402.2 1678.5,1397.5 1685.8,1392.0 1691.4,1388.3 1698.8,1380.9 1704.4,1374.4 1711.8,1366.1 1719.2,1359.6 1724.8,1353.1 1727.6,1347.5 1732.2,1336.4 1739.6,1325.3 1748.8,1310.5 1754.4,1301.2 1759.1,1287.8Z" fill="#2150A0"/>
<path d="M900.9,474.5 907.4,481.4 912.6,480.6 955.2,460.9 970.2,446.5 968.0,446.5 952.3,458.7 914.9,476.9Z" fill="#2150A0"/>
<path d="M1393.1,1035.6 1393.4,1050.0 1392.8,1056.3 1406.4,1089.1 1408.5,1087.4 1406.8,1079.9 1395.6,1054.9 1394.9,1050.0 1397.9,1036.2Z" fill="#8A2012"/>
<path d="M877.6,462.8 894.9,473.1 900.2,472.2 903.5,464.9 900.1,461.5Z" fill="#2150A0"/>
<path d="M1407.1,1088.7 1409.7,1095.2 1417.3,1102.2 1425.0,1106.4 1438.2,1100.2 1430.0,1097.4 1424.7,1100.5 1417.7,1097.0 1412.1,1092.3 1408.1,1086.8Z" fill="#A3381A"/>
<path d="M1593.3,1439.3 1596.8,1441.6 1601.4,1440.1 1607.1,1434.7 1609.9,1436.4 1613.0,1435.3 1629.2,1426.5 1630.2,1423.5 1622.9,1425.5 1610.0,1433.8 1607.1,1431.6Z" fill="#2150A0"/>
<path d="M1414.7,1459.8 1412.3,1468.4 1421.9,1467.3 1421.1,1460.1Z" fill="#2150A0"/>
<path d="M973.2,441.5 974.9,443.8 990.6,436.5 990.3,433.2Z" fill="#2150A0"/>
<path d="M1554.9,1431.4 1560.7,1436.6 1562.0,1430.4 1557.8,1427.2Z" fill="#2150A0"/>
<path d="M1642.0,1418.9 1650.0,1417.5 1650.7,1413.6Z" fill="#2150A0"/>
<polyline points="848.1,424.4 845.4,428.5 844.5,436.2 846.2,446.2 849.8,455.0 855.4,463.5 856.5,466.2" fill="none" style="stroke:#1d4486;stroke-width:1.2"/>
</g>
<rect x="266" y="1470" width="540.7" height="55.6" fill="url(#lg)"/>
<g id="labels">
<text id="t_title" x="14.3 65.8 91.8 155.8 194.2 219.9 275.2" y="104.0" font-size="105.5" font-weight="normal" fill="#56A1F7">Florida</text>
<text id="t_ct" x="23.0" y="172.4" font-size="40.2" font-weight="bold" fill="#56A1F7" textLength="390.5" lengthAdjust="spacingAndGlyphs">Customers Tracked:</text>
<text id="t_ctv" x="422.1" y="172.4" font-size="40.2" font-weight="normal" fill="#56A1F7" stroke="#56A1F7" stroke-width="0.45" textLength="194.1" lengthAdjust="spacingAndGlyphs">11,550,895</text>
<text id="t_co" x="797.2" y="172.4" font-size="40.2" font-weight="bold" fill="#56A1F7" textLength="308.4" lengthAdjust="spacingAndGlyphs">Customers Out:</text>
<text id="t_cov" x="1114.2" y="172.4" font-size="40.2" font-weight="normal" fill="#56A1F7" stroke="#56A1F7" stroke-width="0.45" textLength="169.5" lengthAdjust="spacingAndGlyphs">3,329,281</text>
<text id="t_lu" x="1376.6" y="172.4" font-size="40.2" font-weight="bold" fill="#56A1F7" textLength="275.4" lengthAdjust="spacingAndGlyphs">Last Updated:</text>
<text id="t_luv" x="1659.5" y="172.4" font-size="40.2" font-weight="normal" fill="#56A1F7" stroke="#56A1F7" stroke-width="0.45" textLength="428.9" lengthAdjust="spacingAndGlyphs">2024-10-10 08:27:11 AM</text>
<text id="t_os" x="22.9" y="1511.0" font-size="35.5" font-weight="normal" fill="#56A1F7" stroke="#56A1F7" stroke-width="0.45" textLength="235.0" lengthAdjust="spacingAndGlyphs">Outage Scale:</text>
<text id="t_l0" x="284.0" y="1511.6" font-size="38.2" font-weight="bold" fill="#0f0f0f" textLength="55.8" lengthAdjust="spacingAndGlyphs">0%</text>
<text id="t_l10" x="370.4" y="1511.6" font-size="38.2" font-weight="bold" fill="#0f0f0f" textLength="77.9" lengthAdjust="spacingAndGlyphs">10%</text>
<text id="t_l30" x="479.7" y="1511.6" font-size="38.2" font-weight="bold" fill="#0f0f0f" textLength="77.4" lengthAdjust="spacingAndGlyphs">30%</text>
<text id="t_l60" x="587.6" y="1511.6" font-size="38.2" font-weight="bold" fill="#0f0f0f" textLength="76.3" lengthAdjust="spacingAndGlyphs">60%</text>
<text id="t_l100" x="696.5" y="1511.6" font-size="38.2" font-weight="bold" fill="#0f0f0f" textLength="98.8" lengthAdjust="spacingAndGlyphs">100%</text>
</g>
<rect id="trim" x="64.6" y="26" width="8.4" height="54" fill="#111111"/>
</svg>
</body></html>
